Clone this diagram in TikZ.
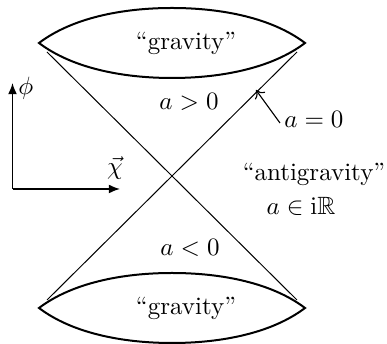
\documentclass[tikz,border=0pt]{standalone}
\usepackage{amssymb}
\usetikzlibrary{arrows.meta}
\tikzset{
  lens/.style={line width=0.8pt},
  coneline/.style={line width=0.4pt},
  axis/.style={line width=0.6pt,-{Latex[length=4.5pt,width=3.6pt]}},
  lbl/.style={inner sep=0pt,anchor=base},
  pointer/.style={line width=0.45pt,-{To[length=3pt,width=5pt]}}
}
\begin{document}
\begin{tikzpicture}[x=0.4pt,y=-0.4pt]
\useasboundingbox (0,0) rectangle (387,344);
% lenses
\draw[lens] (39,43) .. controls (72,18) and (122,8) .. (172,8)
  .. controls (222,8) and (272,18) .. (305,43)
  .. controls (272,68) and (222,78) .. (172,78)
  .. controls (122,78) and (72,68) .. (39,43) -- cycle;
\draw[lens] (39,308) .. controls (72,283) and (122,273) .. (172,273)
  .. controls (222,273) and (272,283) .. (305,308)
  .. controls (272,333) and (222,343) .. (172,343)
  .. controls (122,343) and (72,333) .. (39,308) -- cycle;
% cone lines
\coordinate (tl) at (47,52);
\coordinate (tr) at (297,52);
\coordinate (bl) at (47,300);
\coordinate (br) at (297,300);
\draw[coneline] (tl) -- (br);
\draw[coneline] (tr) -- (bl);
% labels
\node[lbl] (gtop) at (186,50) {``gravity''};
\node[lbl] (gbot) at (186,315) {``gravity''};
\node[lbl] (apos) at (189,110) {$a>0$};
\node[lbl] (aneg) at (190,256) {$a<0$};
\node[lbl] (azero) at (314,128) {$a=0$};
\node[lbl] (anti) at (314,181) {``antigravity''};
\node[lbl] (aimag) at (301,215) {$a\in\mathrm{i}\mathbb{R}$};
% pointer
\coordinate (ptip) at (256,90);
\coordinate (pstart) at (280,123);
\draw[pointer] (pstart) -- (ptip);
% axes
\coordinate (O) at (12.5,189);
\coordinate (ytip) at (12.5,83);
\coordinate (xtip) at (120,189);
\draw[axis] (O) -- (ytip);
\draw[axis] (O) -- (xtip);
\node[lbl,anchor=base west] (phi) at (18,95) {$\phi$};
\node[lbl] (chi) at (115,175) {$\vec{\chi}$};
\end{tikzpicture}
\end{document}
